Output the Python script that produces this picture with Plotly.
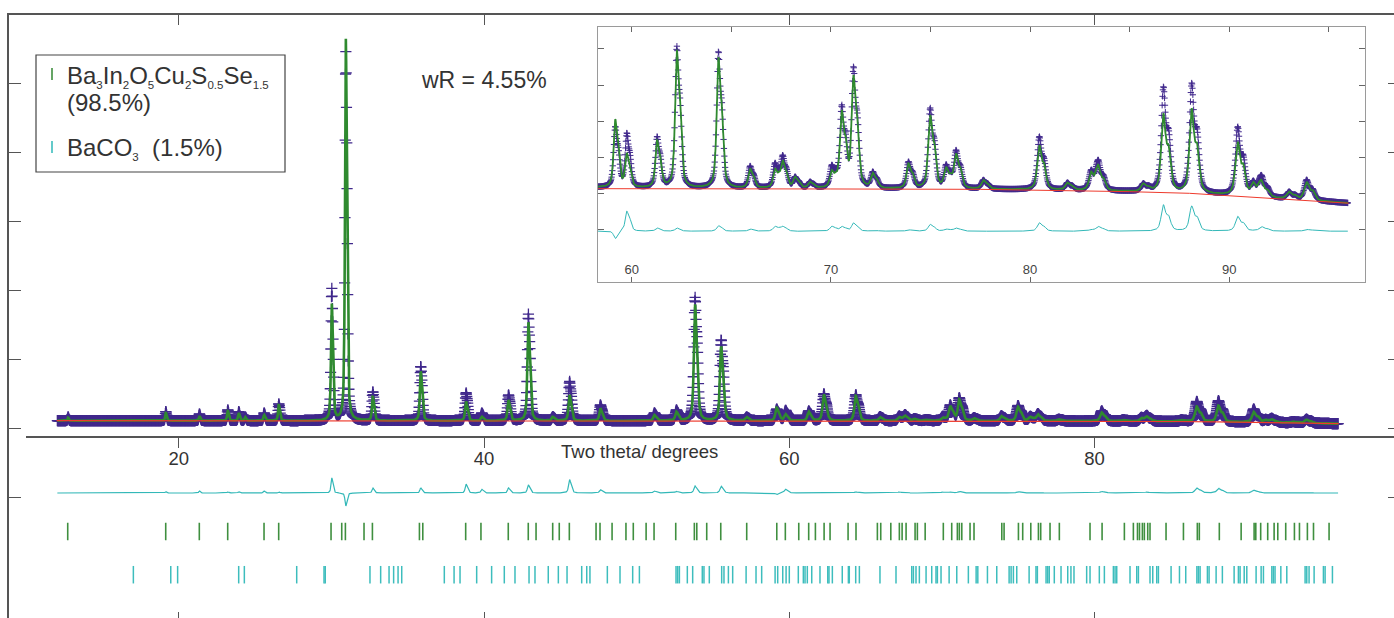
import numpy as np
import plotly.graph_objects as go

# ------------------------------------------------------------------
# Data (2-theta in degrees, intensity in counts)
# ------------------------------------------------------------------
scan_start, scan_end, scan_step = 12.05, 95.95, 0.02

# apex positions and apex intensities of the reflections (calculated / observed)
peak_pos = [12.75, 19.15, 21.35, 23.21, 23.93, 24.35, 25.59, 26.55, 30.02, 30.94,
            32.71, 35.85, 38.82, 39.85, 41.60, 42.90, 44.50, 45.60, 47.62, 51.16,
            52.60, 53.82, 55.53, 57.20,
            59.17, 59.75, 61.27, 62.26, 64.35, 65.94, 67.19, 67.58, 68.20, 68.95,
            70.04, 70.54, 71.13, 72.10, 73.89, 74.98, 75.78, 76.28, 77.65, 80.46,
            81.87, 83.06, 83.43, 85.68, 86.69, 88.11, 90.42, 91.20, 91.62, 93.00, 93.88]
calc_top = [320, 455, 368, 513, 455, 339, 397, 687, 3586, 11171,
            919, 1652, 783, 348, 832, 3064, 348, 977, 591, 397,
            493, 3586, 2377, 339,
            610, 423, 495, 994, 953, 338, 340, 384, 292, 264,
            329, 661, 855, 314, 366, 634, 347, 422, 274, 467,
            259, 320, 357, 255, 643, 671, 486, 264, 274, 209, 264]
obs_top = [340, 493, 426, 542, 493, 339, 455, 716, 4020, 10800,
           1064, 1797, 1035, 455, 977, 3296, 348, 1362, 687, 455,
           542, 3788, 2571, 339,
           569, 534, 514, 1012, 984, 351, 368, 412, 292, 264,
           357, 689, 901, 320, 375, 672, 360, 440, 274, 514,
           259, 330, 384, 255, 790, 811, 569, 270, 300, 209, 275]

# refined background (control points)
bg_pos = [12.0, 40.0, 58.3, 70.0, 77.5, 80.5, 85.0, 88.0, 90.0, 93.0, 96.0]
bg_val = [232, 230, 228, 224, 222, 218, 209, 200, 187, 167, 145]

# reflection markers
ticks_main_phase = [12.73, 19.15, 21.35, 23.21, 25.59, 26.55, 29.98, 30.68, 30.92, 32.14,
                    32.69, 35.77, 35.99, 38.80, 39.80, 41.59, 42.90, 43.41, 44.50, 44.93,
                    45.59, 47.34, 47.60, 48.39, 49.30, 49.78, 50.62, 51.14, 52.56, 53.78,
                    53.94, 54.59, 55.51, 57.21, 59.18, 59.74, 60.62, 61.27, 61.71, 62.28,
                    62.67, 63.85, 64.37, 65.77, 65.99, 66.65, 67.21, 67.39, 67.65, 68.24,
                    68.39, 68.90, 70.09, 70.64, 71.01, 71.14, 71.30, 71.84, 72.10, 73.92,
                    74.07, 75.01, 75.29, 75.82, 76.32, 76.47, 77.08, 77.69, 79.70, 80.49,
                    81.95, 82.54, 82.81, 82.94, 83.13, 83.26, 83.48, 83.63, 84.68, 85.82,
                    86.73, 86.86, 88.17, 89.60, 90.45, 90.56, 90.88, 91.34, 91.76, 92.00,
                    92.52, 93.09, 93.42, 93.94, 94.34, 95.36]
ticks_baco3 = [17.03, 19.48, 19.93, 23.93, 24.30, 27.73, 29.52, 29.60, 32.53, 33.23,
               33.78, 34.08, 34.37, 34.61, 37.40, 38.04, 38.43, 39.52, 40.50, 41.33,
               42.03, 42.95, 43.34, 44.21, 44.87, 45.44, 46.40, 46.73, 46.94, 48.08,
               48.91, 49.74, 50.18, 52.58, 52.69, 52.80, 53.32, 53.67, 54.30, 54.41,
               54.76, 55.57, 55.72, 56.01, 56.29, 57.17, 57.82, 58.19, 59.07, 59.24,
               59.57, 59.79, 60.00, 60.59, 60.92, 61.03, 61.18, 61.47, 62.01, 62.52,
               62.60, 62.82, 63.47, 63.87, 63.93, 64.35, 64.59, 65.94, 66.99, 68.02,
               68.13, 68.30, 68.52, 68.96, 69.33, 69.61, 69.70, 69.94, 70.47, 70.97,
               71.73, 72.24, 72.35, 72.98, 73.59, 74.40, 74.53, 74.68, 74.90, 75.71,
               76.16, 76.25, 76.82, 76.93, 77.03, 77.36, 77.80, 78.24, 78.45, 78.65,
               79.48, 79.70, 80.31, 80.64, 81.23, 81.34, 81.45, 82.32, 82.76, 82.87,
               83.63, 83.81, 84.07, 84.18, 85.01, 85.56, 85.97, 86.70, 86.80, 86.91,
               87.39, 87.50, 87.96, 88.37, 89.14, 89.42, 89.53, 89.80, 89.97, 90.58,
               90.91, 91.06, 91.61, 91.71, 91.82, 92.20, 92.59, 93.79, 93.90, 94.05,
               94.38, 94.99, 95.10, 95.58]

main_tick_labels = [20, 40, 60, 80]
inset_tick_labels = [60, 70, 80, 90]

# ------------------------------------------------------------------
# Profile model (pseudo-Voigt, Cu Ka1/Ka2 doublet)
# ------------------------------------------------------------------
ETA = 0.6
KA2_RATIO = 0.5
DLAM = 0.00248


def fwhm(c):
    return 0.09 + 0.0025 * (c - 20.0)


def pv(x, c, w):
    d2 = ((x - c) / w) ** 2
    return ETA / (1.0 + 4.0 * d2) + (1 - ETA) * np.exp(-4.0 * np.log(2) * d2)


def profile(x, c):
    w = fwhm(c)
    shift = np.degrees(2.0 * np.tan(np.radians(c / 2.0)) * DLAM)
    return pv(x, c, w) + KA2_RATIO * pv(x, c + shift, w)


pp = np.array(peak_pos)
A = np.array([[profile(xi, cj) for cj in pp] for xi in pp])
bg_at_peaks = np.interp(pp, bg_pos, bg_val)


def solve_amps(tops):
    rhs = np.array(tops, float) - bg_at_peaks
    active = np.ones(len(pp), bool)
    amps = np.zeros(len(pp))
    for _ in range(10):
        sub = np.linalg.lstsq(A[np.ix_(active, active)], rhs[active], rcond=None)[0]
        amps[:] = 0
        amps[active] = sub
        if (amps >= 0).all():
            break
        active &= amps > 0
    return np.clip(amps, 0, None)


amp_calc = solve_amps(calc_top)
amp_obs = solve_amps(obs_top)

tt = np.arange(scan_start, scan_end + 1e-9, scan_step)
P = np.array([profile(tt, c) for c in pp])  # peaks x points
bg_curve = np.interp(tt, bg_pos, bg_val)
calc = bg_curve + amp_calc @ P
obs = bg_curve + amp_obs @ P
diff = obs - calc

# ------------------------------------------------------------------
# Geometry (pixels of the reference picture)
# ------------------------------------------------------------------
W, H = 1394, 618
PL, PT, PR, PB = 9, 15, 1394, 618
PW, PH = PR - PL, PB - PT


def xp(px):
    return (px - PL) / PW


def yp(py):
    return (PB - py) / PH


# main x: 20 deg at 178.7 px, 15.265 px/deg
MX0, MXS = 178.7, 15.265
def xdeg(px):
    return 20 + (px - MX0) / MXS

# main y: 0 counts at 428.7 px, 69 px per 2000 counts
MY0, MYS = 428.7, 69.0 / 2000.0
def ycnt(py):
    return (MY0 - py) / MYS

main_xr = [xdeg(PL), xdeg(PR)]
main_yr = [ycnt(PB), ycnt(PT)]
mid_axis_left = 26
mid_xr = [xdeg(mid_axis_left), xdeg(PR)]

DIFF_OFFSET = ycnt(493)
ROW1_Y = ycnt(531.5)
ROW2_Y = ycnt(574.7)

# inset geometry
IL, IR, IT, IB = 598, 1365, 27, 282
IX0, IXS = 631.7, 19.92
def ixdeg(px):
    return 60 + (px - IX0) / IXS
IY0, IYS = 193.3, 0.1805  # 200 counts at 193.3 px
def iycnt(py):
    return 200 + (IY0 - py) / IYS
inset_xr = [ixdeg(IL), ixdeg(IR)]
inset_yr = [iycnt(IB), iycnt(IT)]
INSET_DIFF_OFFSET = -10

PURPLE = "#40288c"
GREEN = "#2f8a2f"
RED = "#ee3a2c"
CYAN = "#33b8b8"
TICK_GREEN = "#3f8f3f"
TICK_CYAN = "#3dbdbd"
AX = "#555555"
TXT = "#333333"
FONT = "Liberation Sans, Arial, sans-serif"

fig = go.Figure()

# main observed
fig.add_trace(go.Scatter(x=tt, y=obs, mode="markers", xaxis="x", yaxis="y",
                         marker=dict(symbol="cross-thin", size=8,
                                     line=dict(width=1.3, color=PURPLE)),
                         hoverinfo="skip"))
# main calculated
fig.add_trace(go.Scatter(x=tt, y=calc, mode="lines", xaxis="x", yaxis="y",
                         line=dict(color=GREEN, width=2.6), hoverinfo="skip"))
# main background
fig.add_trace(go.Scatter(x=bg_pos, y=bg_val, mode="lines", xaxis="x5", yaxis="y",
                         line=dict(color=RED, width=1.2), hoverinfo="skip"))
# main difference
fig.add_trace(go.Scatter(x=tt, y=diff + DIFF_OFFSET, mode="lines", xaxis="x2", yaxis="y",
                         line=dict(color=CYAN, width=1.2), hoverinfo="skip"))
# reflection ticks
fig.add_trace(go.Scatter(x=ticks_main_phase, y=[ROW1_Y] * len(ticks_main_phase),
                         mode="markers", xaxis="x", yaxis="y4",
                         marker=dict(symbol="line-ns", size=12.5,
                                     line=dict(width=1.6, color=TICK_GREEN)),
                         hoverinfo="skip"))
fig.add_trace(go.Scatter(x=ticks_baco3, y=[ROW2_Y] * len(ticks_baco3),
                         mode="markers", xaxis="x", yaxis="y4",
                         marker=dict(symbol="line-ns", size=12.5,
                                     line=dict(width=1.5, color=TICK_CYAN)),
                         hoverinfo="skip"))

# inset
m = (tt >= inset_xr[0]) & (tt <= inset_xr[1])
fig.add_trace(go.Scatter(x=tt[m], y=obs[m], mode="markers", xaxis="x3", yaxis="y3",
                         marker=dict(symbol="cross-thin", size=4.5,
                                     line=dict(width=1.0, color=PURPLE)),
                         hoverinfo="skip"))
fig.add_trace(go.Scatter(x=tt[m], y=calc[m], mode="lines", xaxis="x3", yaxis="y3",
                         line=dict(color=GREEN, width=1.8), hoverinfo="skip"))
fig.add_trace(go.Scatter(x=bg_pos, y=bg_val, mode="lines", xaxis="x6", yaxis="y3",
                         line=dict(color=RED, width=1.0), hoverinfo="skip"))
fig.add_trace(go.Scatter(x=tt[m], y=diff[m] + INSET_DIFF_OFFSET, mode="lines",
                         xaxis="x3", yaxis="y3",
                         line=dict(color=CYAN, width=1.0), hoverinfo="skip"))

common_off = dict(showgrid=False, zeroline=False, showticklabels=False)
main_yticks = list(range(-2000, 10001, 2000))

layout = dict(
    width=W, height=H,
    margin=dict(l=PL, r=W - PR, t=PT, b=H - PB, pad=0),
    paper_bgcolor="white", plot_bgcolor="rgba(0,0,0,0)",
    showlegend=False,
    font=dict(family=FONT, color=TXT),
    xaxis=dict(domain=[0, 1], anchor="y", side="top", range=main_xr,
               tickvals=main_tick_labels, ticks="inside", ticklen=10, tickwidth=1.3,
               tickcolor=AX, showline=True, linecolor=AX, linewidth=1.6, **common_off),
    xaxis5=dict(overlaying="x", anchor="y", side="bottom", range=main_xr,
                tickvals=main_tick_labels, ticks="inside", ticklen=6, tickwidth=1.3,
                tickcolor=AX, showline=False, **common_off),
    xaxis2=dict(domain=[xp(mid_axis_left), 1], anchor="free", position=yp(437),
                range=mid_xr, tickvals=main_tick_labels, ticks="outside", ticklen=10,
                tickwidth=1.3, tickcolor=AX, showline=True, linecolor=AX, linewidth=1.6,
                showgrid=False, zeroline=False, showticklabels=True,
                ticklabelstandoff=-5,
                tickfont=dict(size=18.5, color=TXT, family=FONT)),
    yaxis=dict(domain=[0, 1], anchor="x", range=main_yr, tickvals=main_yticks,
               ticks="inside", ticklen=12, tickwidth=1.3, tickcolor=AX,
               showline=True, linecolor=AX, linewidth=1.6, **common_off),
    yaxis4=dict(overlaying="y", anchor="x", side="right", range=main_yr,
                tickvals=main_yticks, ticks="inside", ticklen=6, tickwidth=1.3,
                tickcolor=AX, showline=False, **common_off),
    xaxis3=dict(domain=[xp(IL), xp(IR)], anchor="y3", range=inset_xr,
                tickvals=inset_tick_labels, ticks="inside", ticklen=5, tickwidth=1,
                tickcolor="#666", showline=True, mirror=True, linecolor="#9a9a9a",
                linewidth=1.2, showgrid=False, zeroline=False, showticklabels=True,
                ticklabelposition="inside",
                tickfont=dict(size=13, color="#444", family=FONT)),
    xaxis6=dict(overlaying="x3", anchor="y3", side="top", range=inset_xr,
                tickvals=list(range(60, 96, 5)), ticks="inside", ticklen=5, tickwidth=1,
                tickcolor="#666", showline=False, **common_off),
    yaxis3=dict(domain=[yp(IB), yp(IT)], anchor="x3", range=inset_yr,
                tickvals=list(range(-200, 1001, 200)), ticks="inside", ticklen=6,
                tickwidth=1, tickcolor="#666", showline=True, mirror="ticks",
                linecolor="#9a9a9a", linewidth=1.2, **common_off),
)
fig.update_layout(**layout)

# legend box and keys
fig.add_shape(type="rect", xref="paper", yref="paper",
              x0=xp(36), x1=xp(285), y0=yp(172), y1=yp(55),
              line=dict(color="#444", width=1.2), fillcolor="white", layer="above")
fig.add_shape(type="line", xref="paper", yref="paper",
              x0=xp(52), x1=xp(52), y0=yp(80), y1=yp(68),
              line=dict(color=TICK_GREEN, width=1.6))
fig.add_shape(type="line", xref="paper", yref="paper",
              x0=xp(52), x1=xp(52), y0=yp(153), y1=yp(141),
              line=dict(color=TICK_CYAN, width=1.6))

def sub(s):
    return '<sub><span style="font-size:11.5px">' + s + '</span></sub>'

annos = [
    dict(text="Ba" + sub("3") + "In" + sub("2") + "O" + sub("5") + "Cu" + sub("2") +
         "S" + sub("0.5") + "Se" + sub("1.5"), x=xp(65), y=yp(77), size=24),
    dict(text="(98.5%)", x=xp(65), y=yp(102), size=24),
    dict(text="BaCO" + sub("3") + "\u00a0 (1.5%)", x=xp(65), y=yp(148), size=24),
    dict(text="wR = 4.55%", x=xp(419), y=yp(80), size=23),
]
for a in annos:
    fig.add_annotation(text=a["text"], x=a["x"], y=a["y"], xref="paper", yref="paper",
                       xanchor="left", yanchor="middle", showarrow=False,
                       font=dict(size=a["size"], color=TXT, family=FONT))
fig.add_annotation(text="Two theta/ degrees", x=xp(639), y=yp(451), xref="paper",
                   yref="paper", xanchor="center", yanchor="middle", showarrow=False,
                   font=dict(size=18.5, color=TXT, family=FONT))

fig.write_html("out.html")
